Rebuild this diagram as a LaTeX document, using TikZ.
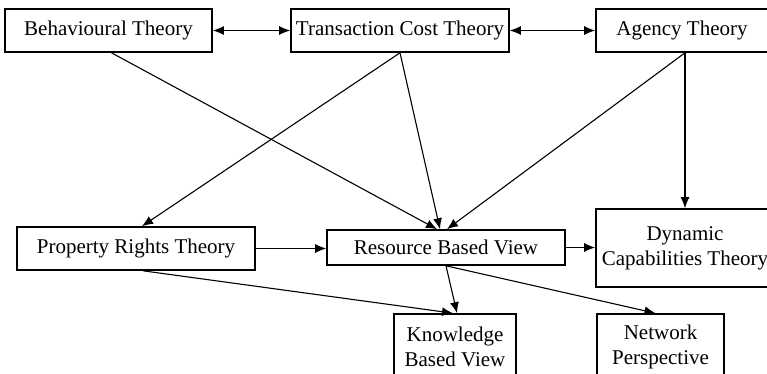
\documentclass[tikz,border=0pt]{standalone}
\usepackage{fontspec}
\setmainfont{Liberation Serif}
\usetikzlibrary{arrows.meta}
\begin{document}
\begin{tikzpicture}[x=1pt,y=-1pt,
  box/.style={draw=black,line width=1.6pt,fill=white,inner sep=0pt,align=center,
    font=\fontsize{21}{25}\selectfont},
  conn/.style={line width=1.1pt,-{Latex[length=11pt,width=9pt]}},
  biconn/.style={line width=1.1pt,{Latex[length=11pt,width=9pt]}-{Latex[length=11pt,width=9pt]}}]
\useasboundingbox (0,0) rectangle (767,374);
\clip (0,0) rectangle (767,374);
\node[box,minimum width=207pt,minimum height=43pt] (beh) at (108.5,30.5) {Behavioural Theory};
\node[box,minimum width=218pt,minimum height=43pt] (tct) at (400,30.5) {Transaction Cost Theory};
\node[box,minimum width=172pt,minimum height=43pt] (agt) at (682,30.5) {Agency Theory};
\node[box,minimum width=238pt,minimum height=43pt] (prt) at (136,248.5) {Property Rights Theory};
\node[box,minimum width=238pt,minimum height=35pt] (rbv) at (446,247.5) {Resource Based View};
\node[box,minimum width=178pt,minimum height=78pt] (dct) at (685,248) {Dynamic\\Capabilities Theory};
\node[box,minimum width=122pt,minimum height=66pt] (kbv) at (455,347) {Knowledge\\Based View};
\node[box,minimum width=127pt,minimum height=66pt] (np) at (660.5,347) {Network\\Perspective};
% top row double arrows
\draw[biconn] (beh.east) -- (tct.west);
\draw[biconn] (tct.east) -- (agt.west);
% diagonals to RBV and PRT
\draw[conn] ([xshift=3pt]beh.south) -- ([xshift=-9pt]rbv.north);
\draw[conn] (tct.south) -- ([xshift=6pt]prt.north);
\draw[conn] (tct.south) -- ([xshift=-6pt]rbv.north);
\draw[conn] ([xshift=3pt]agt.south) -- ([xshift=1pt]rbv.north);
\draw[conn] ([xshift=3pt]agt.south) -- ([xshift=3pt]agt.south |- dct.north);
% horizontal
\draw[conn] (prt.east) -- (prt.east -| rbv.west);
\draw[conn] (rbv.east) -- (rbv.east -| dct.west);
% lower
\draw[conn] ([xshift=7pt]prt.south) -- ([xshift=-2pt]kbv.north);
\draw[conn] (rbv.south) -- ([xshift=2pt]kbv.north);
\draw[conn] (rbv.south) -- ([xshift=-5pt]np.north);
\end{tikzpicture}
\end{document}
